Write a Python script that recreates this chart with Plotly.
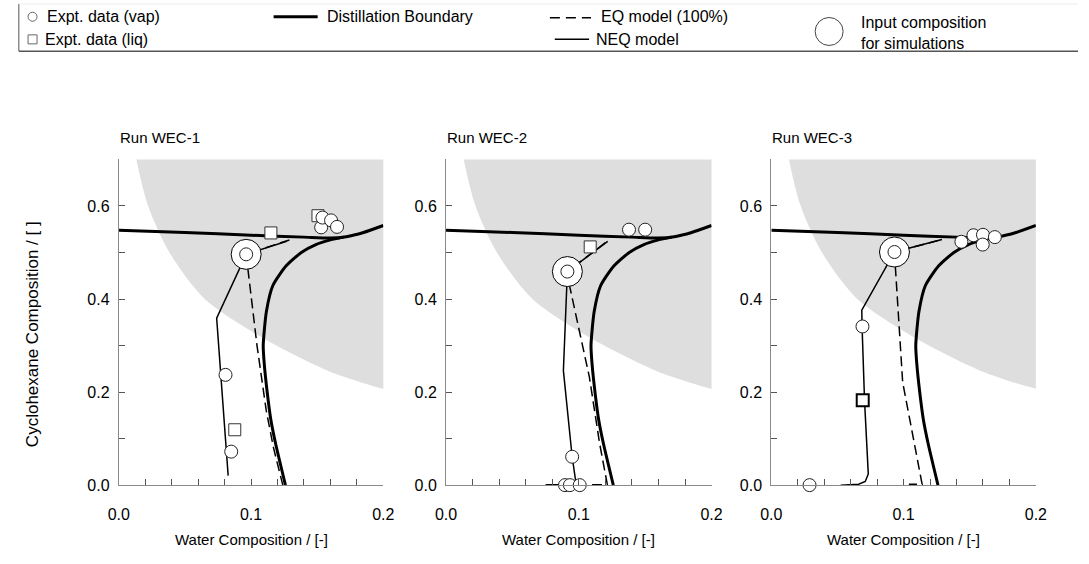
import plotly.graph_objects as go

# ---------------- data ----------------
RUNS = ["Run WEC-1", "Run WEC-2", "Run WEC-3"]

# shaded (heterogeneous) region boundary
GRAY_X = [0.0100, 0.0133, 0.0222, 0.0383, 0.065, 0.109, 0.158, 0.2, 0.23]
GRAY_Y = [0.76, 0.70, 0.60, 0.50, 0.40, 0.316, 0.246, 0.207, 0.19]

# distillation boundary (two branches)
BTOP_X = [0.0, 0.05, 0.10, 0.14, 0.160, 0.172, 0.185, 0.2]
BTOP_Y = [0.548, 0.543, 0.537, 0.533, 0.531, 0.534, 0.543, 0.558]
BSIDE_X = [0.126, 0.1185, 0.1150, 0.1122, 0.1100, 0.1092, 0.1116, 0.1165, 0.1264, 0.138, 0.149, 0.160, 0.170]
BSIDE_Y = [0.0, 0.09, 0.14, 0.20, 0.26, 0.30, 0.373, 0.429, 0.471, 0.500, 0.517, 0.527, 0.533]

# NEQ model profiles
NEQ_X = [
    [0.127, 0.0963, 0.0740, 0.0827],
    [0.1218, 0.0914, 0.0884, 0.0950, 0.0978, 0.0930, 0.0750],
    [0.129, 0.0931, 0.0684, 0.0686, 0.0705, 0.0733, 0.0710, 0.0660, 0.0524],
]
NEQ_Y = [
    [0.524, 0.496, 0.359, 0.0205],
    [0.524, 0.459, 0.246, 0.061, 0.006, 0.001, 0.001],
    [0.528, 0.501, 0.376, 0.341, 0.180, 0.024, 0.008, 0.002, 0.0],
]

# EQ model (100%) profiles
EQ_X = [
    [0.129, 0.0963, 0.1045, 0.1115, 0.1170, 0.1240],
    [0.120, 0.0914, 0.0933, 0.1080, 0.1156, 0.1215, 0.1100],
    [0.1264, 0.0931, 0.0938, 0.0993, 0.1140, 0.1040],
]
EQ_Y = [
    [0.527, 0.496, 0.300, 0.160, 0.080, 0.0],
    [0.521, 0.459, 0.425, 0.232, 0.091, 0.001, 0.001],
    [0.526, 0.501, 0.468, 0.221, 0.002, 0.002],
]

# experimental data
VAP_X = [
    [0.0963, 0.153, 0.154, 0.1605, 0.165, 0.0807, 0.085],
    [0.0914, 0.1378, 0.150, 0.095, 0.0896, 0.0933, 0.1007],
    [0.0931, 0.1437, 0.1528, 0.160, 0.1598, 0.169, 0.0689, 0.0289],
]
VAP_Y = [
    [0.496, 0.554, 0.575, 0.569, 0.555, 0.237, 0.072],
    [0.459, 0.549, 0.549, 0.061, 0.0, 0.0, 0.0],
    [0.501, 0.523, 0.537, 0.538, 0.517, 0.533, 0.341, 0.0],
]
LIQ_X = [[0.1506, 0.115, 0.0877], [0.1086], [0.0691]]
LIQ_Y = [[0.579, 0.542, 0.119], [0.512], [0.1825]]

# input composition for simulations
FEED_X = [0.0963, 0.0914, 0.0931]
FEED_Y = [0.496, 0.459, 0.501]

X_TICKS = [0.0, 0.1, 0.2]
Y_TICKS = [0.0, 0.2, 0.4, 0.6]

# ---------------- layout helpers ----------------
W, H = 1089, 564
FONT = "Liberation Sans, Arial, Helvetica, sans-serif"
FS_TICK = 16
FS_TITLE = 15
FS_XT = 15
FS_YT = 17
FS_LEG = 16
PANEL_PX = [(110, 380), (444, 715), (776, 1046)]
Y_PX = (162, 493)


def px(x):
    return x / W


def py(y):
    return 1 - y / H


fig = go.Figure()
layout = dict(
    width=W, height=H,
    margin=dict(l=0, r=0, t=0, b=0),
    paper_bgcolor="white", plot_bgcolor="white",
    showlegend=False,
    font=dict(family=FONT, size=FS_TICK, color="black"),
)

AXC = "#8a8a8a"
annotations = []
for i in range(3):
    n = "" if i == 0 else str(i + 1)
    xa, ya = "x" + n, "y" + n
    layout["xaxis" + n] = dict(
        domain=[px(PANEL_PX[i][0]), px(PANEL_PX[i][1])], range=[0, 0.2], anchor=ya,
        showline=True, linecolor=AXC, linewidth=1, showgrid=False, zeroline=False,
        ticks="inside", ticklen=6, tickcolor="#555", tickwidth=1,
        tickvals=X_TICKS, ticktext=[f"{v:.1f}" for v in X_TICKS],
        tickfont=dict(size=FS_TICK),
        minor=dict(dtick=0.02, tick0=0, ticks="inside", ticklen=6, tickcolor="#555", showgrid=False),
        ticklabelstandoff=15, fixedrange=True,
    )
    layout["yaxis" + n] = dict(
        domain=[py(Y_PX[1]), py(Y_PX[0])], range=[0, 0.7], anchor=xa,
        showline=True, linecolor=AXC, linewidth=1, showgrid=False, zeroline=False,
        ticks="inside", ticklen=6, tickcolor="#555", tickwidth=1,
        tickvals=Y_TICKS, ticktext=[f"{v:.1f}" for v in Y_TICKS],
        tickfont=dict(size=FS_TICK),
        minor=dict(dtick=0.1, tick0=0, ticks="inside", ticklen=6, tickcolor="#555", showgrid=False),
        ticklabelstandoff=5, fixedrange=True,
    )

    # shaded region
    gx = GRAY_X + [0.3, 0.3, GRAY_X[0]]
    gy = GRAY_Y + [0.19, 0.8, 0.8]
    fig.add_trace(go.Scatter(x=gx, y=gy, xaxis=xa, yaxis=ya, mode="lines", fill="toself",
                             fillcolor="#dedede", line=dict(width=0, shape="spline", smoothing=0.8),
                             hoverinfo="skip"))
    # distillation boundary
    fig.add_trace(go.Scatter(x=BTOP_X, y=BTOP_Y, xaxis=xa, yaxis=ya, mode="lines",
                             line=dict(color="black", width=3, shape="spline", smoothing=0.6)))
    fig.add_trace(go.Scatter(x=BSIDE_X, y=BSIDE_Y, xaxis=xa, yaxis=ya, mode="lines",
                             line=dict(color="black", width=3, shape="spline", smoothing=0.6)))
    # EQ model
    fig.add_trace(go.Scatter(x=EQ_X[i], y=EQ_Y[i], xaxis=xa, yaxis=ya, mode="lines",
                             line=dict(color="black", width=1.5, dash="10px,5px")))
    # NEQ model
    fig.add_trace(go.Scatter(x=NEQ_X[i], y=NEQ_Y[i], xaxis=xa, yaxis=ya, mode="lines",
                             line=dict(color="black", width=1.5)))
    # input composition
    fig.add_trace(go.Scatter(x=[FEED_X[i]], y=[FEED_Y[i]], xaxis=xa, yaxis=ya, mode="markers",
                             marker=dict(symbol="circle", size=30, color="white",
                                         line=dict(color="black", width=1)), cliponaxis=False))
    # liquid data
    fig.add_trace(go.Scatter(x=LIQ_X[i], y=LIQ_Y[i], xaxis=xa, yaxis=ya, mode="markers",
                             marker=dict(symbol="square", size=12, color="white",
                                         line=dict(color="#333" if i < 2 else "black", width=1 if i < 2 else 2)),
                             cliponaxis=False))
    # vapour data
    fig.add_trace(go.Scatter(x=VAP_X[i], y=VAP_Y[i], xaxis=xa, yaxis=ya, mode="markers",
                             marker=dict(symbol="circle", size=13, color="white",
                                         line=dict(color="#222", width=1)),
                             cliponaxis=False))

    # titles
    annotations.append(dict(text=RUNS[i], xref="paper", yref="paper", x=px(PANEL_PX[i][0] - 1), y=py(140),
                            xanchor="left", yanchor="middle", showarrow=False, font=dict(size=FS_TITLE)))
    annotations.append(dict(text="Water Composition / [-]", xref="paper", yref="paper",
                            x=px((PANEL_PX[i][0] + PANEL_PX[i][1]) / 2), y=py(548),
                            xanchor="center", yanchor="middle", showarrow=False, font=dict(size=FS_XT)))

annotations.append(dict(text="Cyclohexane Composition / [ ]", xref="paper", yref="paper",
                        x=px(22), y=py(340), textangle=-90, xanchor="center", yanchor="middle",
                        showarrow=False, font=dict(size=FS_YT)))

# ---------------- legend (drawn) ----------------
R1, R2, BOT, TOP = 17, 40, 52, 4
shapes = []
shapes.append(dict(type="line", xref="paper", yref="paper", x0=px(8), x1=px(8), y0=py(TOP), y1=py(BOT),
                   line=dict(color="#555", width=1)))
shapes.append(dict(type="line", xref="paper", yref="paper", x0=px(8), x1=1.0, y0=py(BOT), y1=py(BOT),
                   line=dict(color="#555", width=1.5)))
shapes.append(dict(type="line", xref="paper", yref="paper", x0=px(8), x1=1.0, y0=py(TOP), y1=py(TOP),
                   line=dict(color="#ececec", width=1)))


def glyph(kind, cx, cy, r, color="#666", width=1):
    return dict(type=kind, xref="paper", yref="paper", xsizemode="pixel", ysizemode="pixel",
                xanchor=px(cx), yanchor=py(cy), x0=-r, x1=r, y0=-r, y1=r,
                line=dict(color=color, width=width), fillcolor="white")


shapes.append(glyph("circle", 22, R1, 4.5))
shapes.append(glyph("rect", 22, R2, 4.5))
shapes.append(glyph("circle", 835, 32, 14, color="#444"))
shapes.append(dict(type="line", xref="paper", yref="paper", x0=px(268), x1=px(313), y0=py(R1), y1=py(R1),
                   line=dict(color="black", width=3)))
shapes.append(dict(type="line", xref="paper", yref="paper", x0=px(550), x1=px(592), y0=py(R1 + 1), y1=py(R1 + 1),
                   line=dict(color="black", width=1.5, dash="10px,6px")))
shapes.append(dict(type="line", xref="paper", yref="paper", x0=px(555), x1=px(590), y0=py(R2), y1=py(R2),
                   line=dict(color="black", width=1.5)))

LEG = [("Expt. data (vap)", 35, R1), ("Expt. data (liq)", 33, R2), ("Distillation Boundary", 320, R1),
       ("EQ model (100%)", 600, R1), ("NEQ model", 595, R2), ("Input composition<br>for simulations", 865, 34)]
for t, x, y in LEG:
    annotations.append(dict(text=t, xref="paper", yref="paper", x=px(x), y=py(y), xanchor="left",
                            yanchor="middle", align="left", showarrow=False, font=dict(size=FS_LEG)))

layout["annotations"] = annotations
layout["shapes"] = shapes
fig.update_layout(**layout)
fig.write_html("out.html", config={"displayModeBar": False, "staticPlot": True},
               post_script="document.body.style.margin='0px';")
